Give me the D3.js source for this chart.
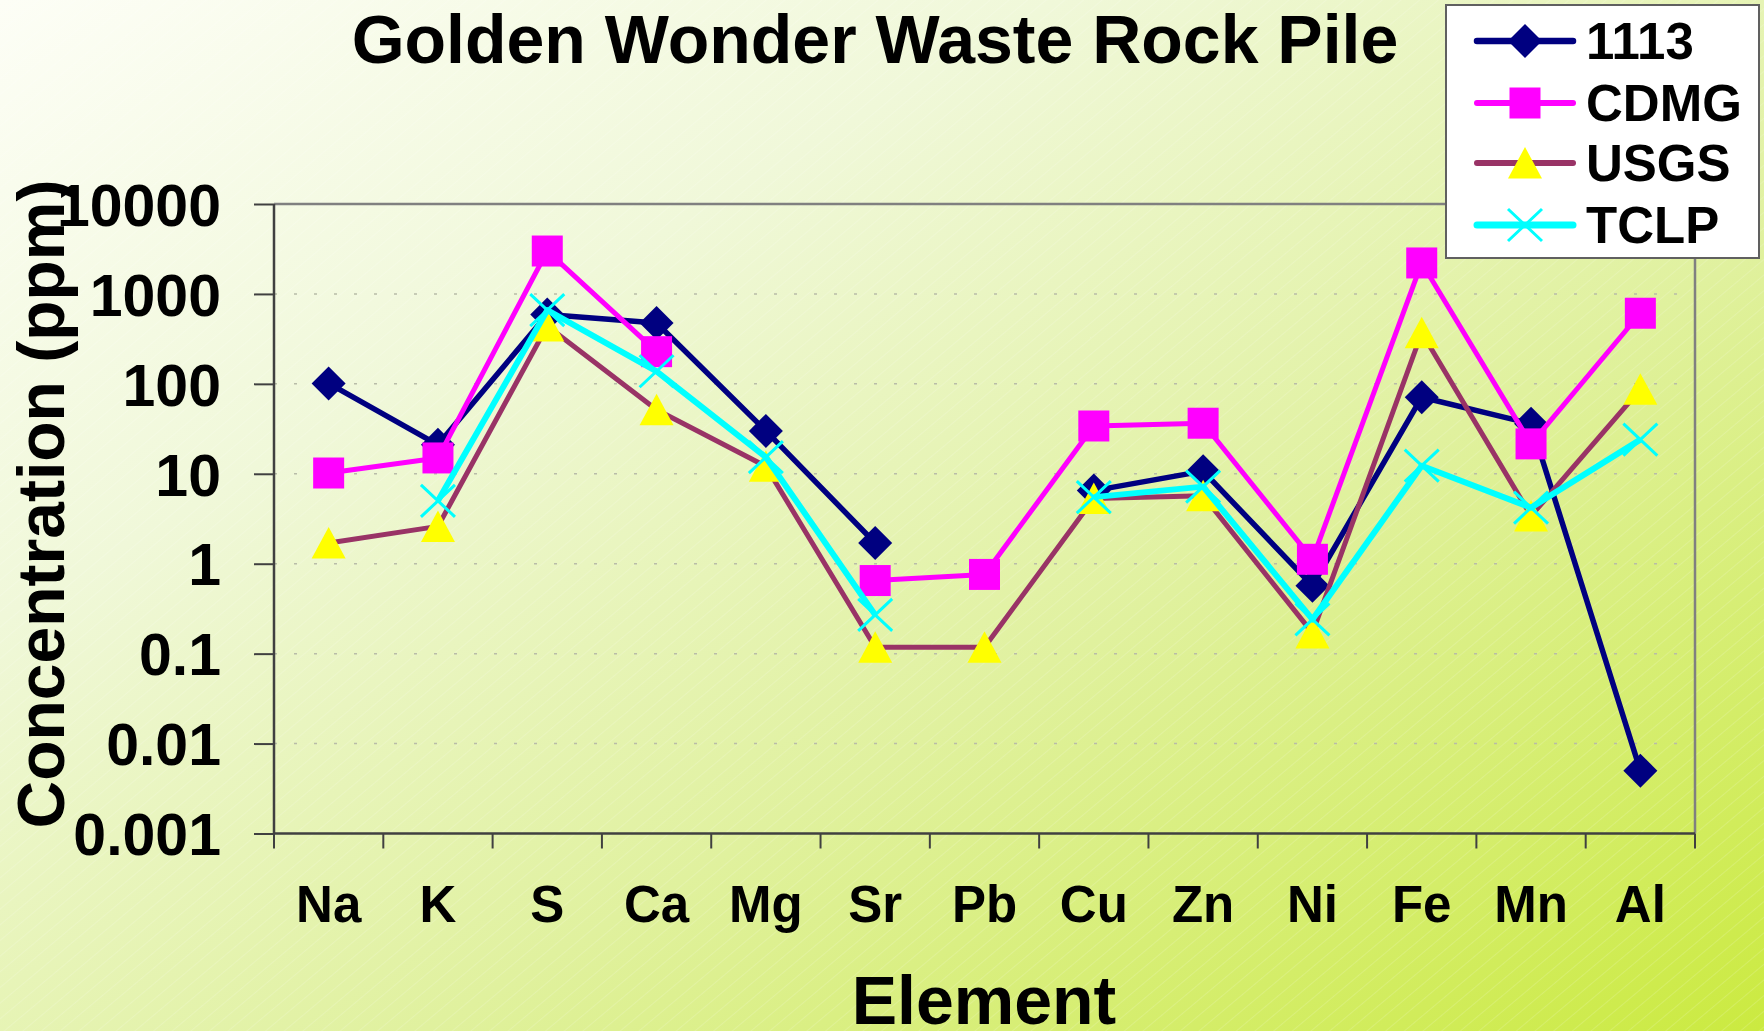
<!DOCTYPE html>
<html>
<head>
<meta charset="utf-8">
<script src="https://cdn.jsdelivr.net/npm/d3@7"></script>
<style>
  html, body { margin: 0; padding: 0; background: #fff; }
  svg { display: block; }
  text { font-family: "Liberation Sans", Arial, sans-serif; font-weight: bold; fill: #000; }
</style>
</head>
<body>
<div id="chart"></div>
<script>
// element categories along the x axis
var elements = ["Na", "K", "S", "Ca", "Mg", "Sr", "Pb", "Cu", "Zn", "Ni", "Fe", "Mn", "Al"];

// series values in ppm (null = no value)
var s1113 = [101, 21, 590, 476, 30, 1.7, null, 6.5, 10.7, 0.57, 71, 36, 0.005];
var sCDMG = [10.2, 15, 3000, 228, null, 0.65, 0.76, 34, 36.5, 1.12, 2210, 21.5, 610];
var sUSGS = [1.7, 2.6, 440, 51.5, 12.1, 0.118, 0.118, 5.3, 5.7, 0.17, 370, 3.4, 87];
var sTCLP = [null, 5, 660, 138, 15.3, 0.27, null, 5.5, 7.2, 0.24, 12.3, 4.2, 24];

var seriesNames = ["1113", "CDMG", "USGS", "TCLP"];
var yTicks = [0.001, 0.01, 0.1, 1, 10, 100, 1000, 10000];
var yTickLabels = ["0.001", "0.01", "0.1", "1", "10", "100", "1000", "10000"];

var W = 1764, H = 1031;
var plot = {left: 274, right: 1695, top: 204, bottom: 833.5};

var svg = d3.select("#chart").append("svg")
    .attr("width", W)
    .attr("height", H);

var defs = svg.append("defs");
var grad = defs.append("linearGradient")
    .attr("id", "bg")
    .attr("x1", 0).attr("y1", 0).attr("x2", 1).attr("y2", 1);
grad.append("stop").attr("offset", 0).attr("stop-color", "#fdfef6");
grad.append("stop").attr("offset", 0.3).attr("stop-color", "#f0f8d9");
grad.append("stop").attr("offset", 0.62).attr("stop-color", "#e0f19e");
grad.append("stop").attr("offset", 1).attr("stop-color", "#cbea40");

var hatch = defs.append("pattern")
    .attr("id", "hatch")
    .attr("patternUnits", "userSpaceOnUse")
    .attr("width", 12).attr("height", 12)
    .attr("patternTransform", "rotate(-40)");
hatch.append("line")
    .attr("x1", 0).attr("y1", 0).attr("x2", 12).attr("y2", 0)
    .attr("stroke", "#ffffff")
    .attr("stroke-opacity", 0.3)
    .attr("stroke-width", 1);

svg.append("rect").attr("width", W).attr("height", H).attr("fill", "url(#bg)");
svg.append("rect").attr("width", W).attr("height", H).attr("fill", "url(#hatch)");

var x = d3.scaleBand().domain(elements).range([plot.left, plot.right]);
var y = d3.scaleLog().domain([0.001, 10000]).range([plot.bottom, plot.top]);

// gridlines
svg.append("g")
    .selectAll("line")
    .data(yTicks.slice(1, -1))
    .enter().append("line")
    .attr("x1", plot.left).attr("x2", plot.right)
    .attr("y1", function(d) { return y(d); })
    .attr("y2", function(d) { return y(d); })
    .attr("stroke", "#b8bca8")
    .attr("stroke-width", 1.5)
    .attr("stroke-dasharray", "3 17");

// frame: top and right in grey
svg.append("path")
    .attr("d", "M" + plot.left + "," + plot.top + "H" + plot.right + "V" + plot.bottom)
    .attr("fill", "none")
    .attr("stroke", "#808080")
    .attr("stroke-width", 2.5);

// y axis
var yAxis = svg.append("g")
    .attr("transform", "translate(" + plot.left + ",0)")
    .call(d3.axisLeft(y)
        .tickValues(yTicks)
        .tickSize(20)
        .tickSizeOuter(0)
        .tickPadding(33)
        .tickFormat(function(d, i) { return yTickLabels[i]; }));
yAxis.select(".domain").remove();
yAxis.selectAll(".tick line").attr("stroke", "#404040").attr("stroke-width", 2);
yAxis.selectAll(".tick text")
    .attr("font-size", 59)
    .attr("font-family", "Liberation Sans, Arial, sans-serif")
    .attr("font-weight", "bold")
    .attr("fill", "#000")
    .attr("dy", "0.36em");

// x axis
var bounds = elements.map(function(e) { return x(e); }).concat([x(elements[elements.length - 1]) + x.bandwidth()]);
svg.append("g")
    .selectAll("line")
    .data(bounds)
    .enter().append("line")
    .attr("x1", function(d) { return d; })
    .attr("x2", function(d) { return d; })
    .attr("y1", plot.bottom)
    .attr("y2", plot.bottom + 15)
    .attr("stroke", "#404040")
    .attr("stroke-width", 2);

svg.append("line")
    .attr("x1", plot.left).attr("x2", plot.left)
    .attr("y1", plot.top).attr("y2", plot.bottom)
    .attr("stroke", "#404040").attr("stroke-width", 2.5);
svg.append("line")
    .attr("x1", plot.left).attr("x2", plot.right)
    .attr("y1", plot.bottom).attr("y2", plot.bottom)
    .attr("stroke", "#404040").attr("stroke-width", 2.5);

svg.append("g")
    .selectAll("text")
    .data(elements)
    .enter().append("text")
    .attr("x", function(d) { return x(d) + x.bandwidth() / 2; })
    .attr("y", 922)
    .attr("text-anchor", "middle")
    .attr("font-size", 51)
    .text(function(d) { return d; });

// marker shapes
var diamond = {draw: function(p) {
    p.moveTo(0, -17); p.lineTo(17, 0); p.lineTo(0, 17); p.lineTo(-17, 0); p.closePath();
}};
var square = {draw: function(p) {
    p.moveTo(-15.5, -15.5); p.lineTo(15.5, -15.5); p.lineTo(15.5, 15.5); p.lineTo(-15.5, 15.5); p.closePath();
}};
var triangle = {draw: function(p) {
    p.moveTo(0, -16); p.lineTo(17, 15.5); p.lineTo(-17, 15.5); p.closePath();
}};
var cross = {draw: function(p) {
    p.moveTo(-17, -16); p.lineTo(17, 16); p.moveTo(17, -16); p.lineTo(-17, 16);
}};

var series = [
    {name: seriesNames[0], values: s1113, line: "#000080", width: 5.5, shape: diamond, fill: "#000080", stroke: "none"},
    {name: seriesNames[1], values: sCDMG, line: "#ff00ff", width: 5, shape: square, fill: "#ff00ff", stroke: "none"},
    {name: seriesNames[2], values: sUSGS, line: "#993366", width: 5, shape: triangle, fill: "#ffff00", stroke: "none"},
    {name: seriesNames[3], values: sTCLP, line: "#00ffff", width: 6, shape: cross, fill: "none", stroke: "#00ffff"}
];

var line = d3.line()
    .defined(function(d) { return d.v != null; })
    .x(function(d) { return x(d.e) + x.bandwidth() / 2; })
    .y(function(d) { return y(d.v); });

series.forEach(function(s) {
    var pts = elements.map(function(e, i) { return {e: e, v: s.values[i]}; });
    var g = svg.append("g").attr("class", "series");
    g.append("path")
        .attr("d", line(pts))
        .attr("fill", "none")
        .attr("stroke", s.line)
        .attr("stroke-width", s.width)
        .attr("stroke-linejoin", "round");
    g.selectAll(".mk")
        .data(pts.filter(function(d) { return d.v != null; }))
        .enter().append("path")
        .attr("class", "mk")
        .attr("transform", function(d) { return "translate(" + (x(d.e) + x.bandwidth() / 2) + "," + y(d.v) + ")"; })
        .attr("d", d3.symbol().type(s.shape)())
        .attr("fill", s.fill)
        .attr("stroke", s.stroke)
        .attr("stroke-width", 3);
});

// legend
var legend = svg.append("g");
legend.append("rect")
    .attr("x", 1446).attr("y", 5)
    .attr("width", 313).attr("height", 253)
    .attr("fill", "#ffffff")
    .attr("stroke", "#606060")
    .attr("stroke-width", 2);
var legendY = [41, 103, 163, 225];
series.forEach(function(s, i) {
    var ly = legendY[i];
    legend.append("line")
        .attr("x1", 1477).attr("x2", 1573)
        .attr("y1", ly).attr("y2", ly)
        .attr("stroke", s.line)
        .attr("stroke-width", s.width + 1)
        .attr("stroke-linecap", "round");
    legend.append("path")
        .attr("transform", "translate(1525," + ly + ")")
        .attr("d", d3.symbol().type(s.shape)())
        .attr("fill", s.fill)
        .attr("stroke", s.stroke)
        .attr("stroke-width", 3);
    legend.append("text")
        .attr("x", 1586).attr("y", ly)
        .attr("dy", "0.36em")
        .attr("font-size", 51)
        .text(s.name);
});

// titles
svg.append("text")
    .attr("x", 875).attr("y", 63)
    .attr("text-anchor", "middle")
    .attr("font-size", 68)
    .text("Golden Wonder Waste Rock Pile");

svg.append("text")
    .attr("x", 984).attr("y", 1024)
    .attr("text-anchor", "middle")
    .attr("font-size", 68)
    .text("Element");

svg.append("text")
    .attr("transform", "translate(64,504) rotate(-90)")
    .attr("text-anchor", "middle")
    .attr("font-size", 66)
    .text("Concentration (ppm)");
</script>
</body>
</html>
